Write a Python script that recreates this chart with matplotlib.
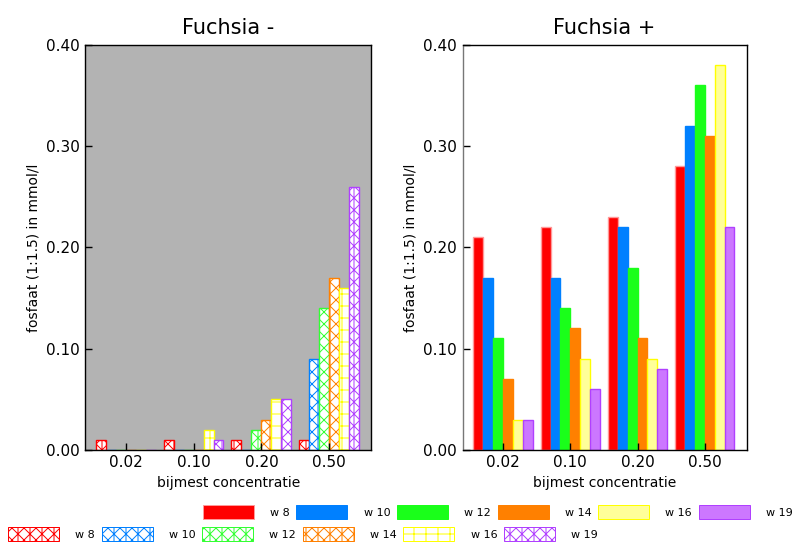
import numpy as np
import matplotlib
matplotlib.use("Agg")
import matplotlib.pyplot as plt
from matplotlib.patches import Patch

groups = ["0.02", "0.10", "0.20", "0.50"]
weeks = ["w 8", "w 10", "w 12", "w 14", "w 16", "w 19"]

# fosfaat values per week (rows) for each concentration (columns)
min_vals = [
    [0.01, 0.01, 0.01, 0.01],
    [0.00, 0.00, 0.00, 0.09],
    [0.00, 0.00, 0.02, 0.14],
    [0.00, 0.00, 0.03, 0.17],
    [0.00, 0.02, 0.05, 0.16],
    [0.00, 0.01, 0.05, 0.26],
]
plus_vals = [
    [0.21, 0.22, 0.23, 0.28],
    [0.17, 0.17, 0.22, 0.32],
    [0.11, 0.14, 0.18, 0.36],
    [0.07, 0.12, 0.11, 0.31],
    [0.03, 0.09, 0.09, 0.38],
    [0.03, 0.06, 0.08, 0.22],
]

face_colors = ["#ff0000", "#0080ff", "#1aff1a", "#ff8000", "#ffff99", "#cc77ff"]
edge_colors = ["#ff9999", "#0080ff", "#1aff1a", "#ff8000", "#ffff00", "#b040ff"]
hatch_colors = ["#ff0000", "#0080ff", "#33ff33", "#ff8000", "#ffff00", "#b040ff"]
hatches = ["xx|", "xx|", "xx|", "xx|", "+", "xx|"]

# render at 72 dpi so the hatch cells come out ~12 px; S keeps pixel sizes
DPI = 72
S = 100 / 72

plt.rcParams["hatch.linewidth"] = 1.0
plt.rcParams["font.family"] = "DejaVu Sans"

fig = plt.figure(figsize=(795 / DPI, 546 / DPI), dpi=DPI)
ax1 = fig.add_axes([0.107, 0.176, 0.360, 0.742])
ax2 = fig.add_axes([0.582, 0.176, 0.357, 0.742])

x = np.arange(len(groups))
bw = 0.147
offsets = (np.arange(len(weeks)) - 2.5) * bw

ax1.set_facecolor("#b3b3b3")
for i in range(len(weeks)):
    ax1.bar(x + offsets[i], min_vals[i], bw, facecolor="white",
            edgecolor=hatch_colors[i], hatch=hatches[i], linewidth=1.0 * S,
            label=weeks[i])
    ax2.bar(x + offsets[i], plus_vals[i], bw, facecolor=face_colors[i],
            edgecolor=edge_colors[i], linewidth=1.0 * S, label=weeks[i])

for ax, title in [(ax1, "Fuchsia -"), (ax2, "Fuchsia +")]:
    ax.set_xlim(-0.6, 3.62)
    ax.set_ylim(0, 0.40)
    ax.set_yticks([0, 0.1, 0.2, 0.3, 0.4])
    ax.set_yticklabels(["0.00", "0.10", "0.20", "0.30", "0.40"])
    ax.set_xticks(x)
    ax.set_xticklabels(groups)
    ax.tick_params(direction="in", length=5 * S, labelsize=11 * S,
                   width=1 * S, pad=4 * S)
    ax.set_title(title, fontsize=15 * S, pad=8 * S)
    ax.set_ylabel("fosfaat (1:1.5) in mmol/l", fontsize=10 * S, labelpad=4 * S)
    ax.set_xlabel("bijmest concentratie", fontsize=10 * S, labelpad=4 * S)
    for s in ax.spines.values():
        s.set_linewidth(1.0 * S)

ax2.spines["left"].set_color("#777777")

h_plus = [Patch(facecolor=face_colors[i], edgecolor=edge_colors[i], label=weeks[i])
          for i in range(len(weeks))]
h_min = [Patch(facecolor="white", edgecolor=hatch_colors[i], hatch=hatches[i],
               label=weeks[i]) for i in range(len(weeks))]

leg_kw = dict(ncol=6, frameon=False, fontsize=8 * S, handlelength=4.6,
              handleheight=1.5, handletextpad=1.45, columnspacing=0.6,
              borderpad=0, borderaxespad=0)
fig.legend(handles=h_plus, loc="center left", bbox_to_anchor=(0.255, 0.062),
           **leg_kw)
fig.legend(handles=h_min, loc="center left", bbox_to_anchor=(0.010, 0.022),
           **leg_kw)

fig.savefig("out.png", dpi=DPI)
